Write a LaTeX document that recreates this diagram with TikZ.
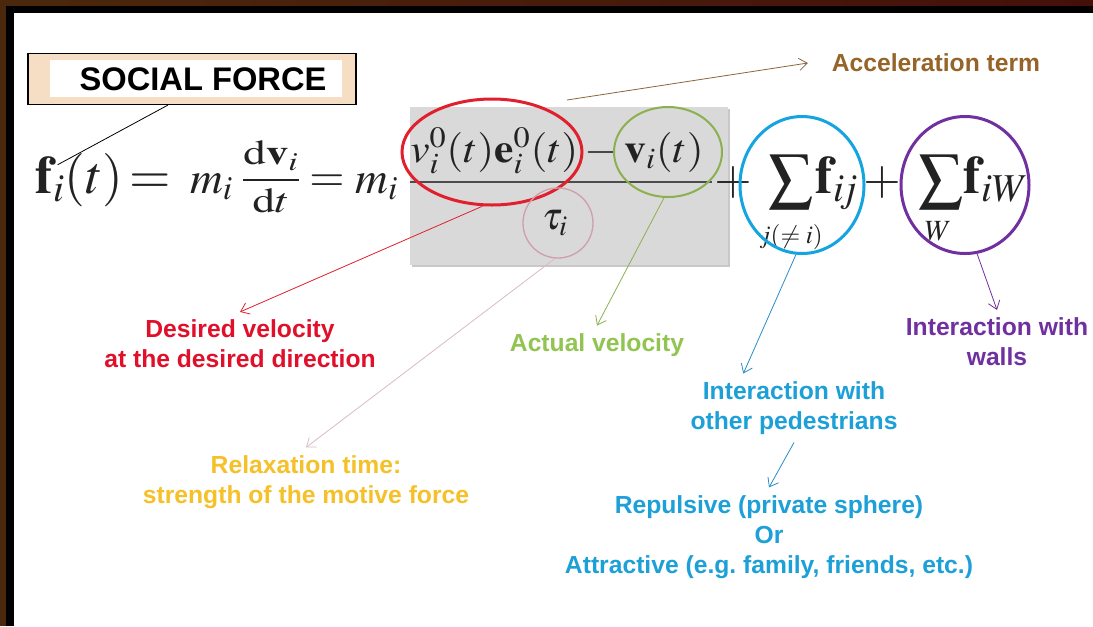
\documentclass[tikz,border=0pt]{standalone}
\usepackage{mathptmx}
\usepackage[no-math]{fontspec}
\usepackage{graphicx}
\newfontfamily\labfont{Liberation Sans}
\usetikzlibrary{shapes.geometric,arrows.meta}
\frenchspacing
\definecolor{framebrown}{HTML}{4B280C}
\definecolor{framemaroon}{HTML}{45100A}
\definecolor{titletan}{HTML}{F5DEC3}
\definecolor{boxgray}{HTML}{D9D9D9}
\definecolor{boxshadow}{HTML}{C8C8C8}
\definecolor{ellred}{HTML}{E0202E}
\definecolor{ellgreen}{HTML}{8CB050}
\definecolor{ellpink}{HTML}{CDA0AA}
\definecolor{ellblue}{HTML}{14A5E1}
\definecolor{ellpurple}{HTML}{7030A0}
\definecolor{labred}{HTML}{E0102A}
\definecolor{labgreen}{HTML}{92C452}
\definecolor{labgold}{HTML}{F5C028}
\definecolor{labcyan}{HTML}{1CA0D7}
\definecolor{labbrown}{HTML}{966428}
\definecolor{arrbrown}{HTML}{8C643C}
\definecolor{arrpink}{HTML}{D8BCC2}
\definecolor{arrblue}{HTML}{2A8CC8}
\definecolor{mathink}{HTML}{222222}
\tikzset{
  lab/.style={font=\labfont\bfseries\fontsize{18.5}{22.5}\selectfont, align=center, inner sep=0pt, outer sep=6pt},
  arr/.style={-{Straight Barb[length=6pt,width=9pt]}, line width=0.6pt},
  mathnode/.style={inner sep=0pt, text=mathink},
  ring/.style={ellipse, inner sep=0pt, fill=none}
}
\begin{document}
\begin{tikzpicture}[x=0.75pt,y=-0.75pt]
\useasboundingbox (0,0) rectangle (1093,626);
% frame
\fill[white] (0,0) rectangle (1093,626);
\shade[left color=framebrown, right color=framemaroon] (0,0) rectangle (1093,6);
\fill[framebrown] (0,0) rectangle (6,626);
\fill[black] (6,6) rectangle (1093,13);
\fill[black] (6,6) rectangle (14,626);
% title
\node[draw=black, line width=0.8pt, fill=titletan, minimum width=246pt, minimum height=38.25pt, inner sep=0pt] (titlebox) at (192,79) {};
\node[fill=white, minimum width=219pt, minimum height=27.75pt, inner sep=0pt] (titlewhite) at (196,78.5) {};
\node[font=\labfont\bfseries\fontsize{24.5}{28}\selectfont, inner sep=0pt] (titletext) at (203,79) {SOCIAL FORCE};
% gray box
\fill[boxshadow] (412,109) rectangle (730,267);
\fill[boxgray] (410,107) rectangle (728,265);
% equation
\node[mathnode, anchor=base west, font=\fontsize{40}{48}\selectfont] (fi) at (35,193) {$\mathbf{f}_i(t)\!=$};
\node[mathnode, anchor=base west, font=\fontsize{34}{40}\selectfont] (mA) at (190,193) {$m_i$};
\node[mathnode, font=\fontsize{25}{30}\selectfont] (dfrac) at (271,177) {\scalebox{1.35}[1.05]{$\displaystyle\frac{\mathrm{d}\mathbf{v}_i}{\mathrm{d}t}$}};
\node[mathnode, font=\fontsize{34}{40}\selectfont] (eqB) at (327,183) {$=$};
\node[mathnode, anchor=base west, font=\fontsize{34}{40}\selectfont] (mB) at (355,193) {$m_i$};
\node[mathnode, anchor=base west, font=\fontsize{30}{36}\selectfont] (numer) at (410,162) {\scalebox{1.09}[1]{$v_i^0(t)\mathbf{e}_i^0(t)-\mathbf{v}_i(t)$}};
\draw[line width=1.2pt, black!70] (410,182) -- (712,182);
\node[mathnode, font=\fontsize{29}{34}\selectfont] (tau) at (555,223) {$\tau_i$};
\node[mathnode, font=\fontsize{36}{40}\selectfont] (plusA) at (733,183) {$+$};
\node[mathnode, font=\fontsize{36}{40}\selectfont] (plusB) at (882,183) {$+$};
\node[mathnode, font=\fontsize{33}{40}\selectfont] (sigA) at (791,182) {$\displaystyle\sum$};
\node[mathnode, anchor=base west, font=\fontsize{40}{48}\selectfont] (fA) at (815,193) {$\mathbf{f}_{i\!j}$};
\node[mathnode, font=\fontsize{19}{22}\selectfont] (subA) at (791,237) {$j(\neq i)$};
\node[mathnode, font=\fontsize{33}{40}\selectfont] (sigB) at (941,182) {$\displaystyle\sum$};
\node[mathnode, anchor=base west, font=\fontsize{40}{48}\selectfont] (fB) at (963,193) {$\mathbf{f}_{iW}$};
\node[mathnode, font=\fontsize{22}{26}\selectfont] (subB) at (938,231) {$W$};
% rings
\node[ring, draw=ellred, line width=2.25pt, minimum width=135pt, minimum height=79.5pt] (redell) at (492,152) {};
\node[ring, draw=ellgreen, line width=1.5pt, minimum width=81pt, minimum height=67.5pt] (greenell) at (668,152) {};
\node[ring, draw=ellpink, line width=1pt, minimum width=52.5pt, minimum height=52.5pt] (pinkell) at (558,223) {};
\node[ring, draw=ellblue, line width=2.25pt, minimum width=93pt, minimum height=102.75pt] (blueell) at (802,185) {};
\node[ring, draw=ellpurple, line width=2.25pt, minimum width=96pt, minimum height=102.75pt] (purpleell) at (965,185) {};
% labels
\node[lab, text=labbrown] (accel) at (936,63) {Acceleration term};
\node[lab, text=labred] (desired) at (240,344) {Desired velocity\\at the desired direction};
\node[lab, text=labgreen] (actual) at (597,345) {Actual velocity};
\node[lab, text=labgold] (relax) at (306,482) {Relaxation time:\\strength of the motive force};
\node[lab, text=labcyan] (inter) at (794,408) {Interaction with\\other pedestrians};
\node[lab, text=labcyan] (rep) at (769,537) {Repulsive (private sphere)\\Or\\Attractive (e.g.\ family, friends, etc.)};
\node[lab, text=ellpurple] (walls) at (997,342) {Interaction with\\walls};
% connectors
\coordinate (accstart) at (567,100);
\draw[arr, arrbrown] (accstart) -- ([xshift=-12pt]accel.west);
\draw[line width=0.6pt, black] ([xshift=-18pt]titlebox.south) -- ([xshift=17pt,yshift=-9pt]fi.north west);
\draw[arr, ellred] (redell.-100) -- (desired.north);
\draw[arr, arrpink] (pinkell.-95) -- (relax.north);
\draw[arr, ellgreen] (greenell.-95) -- (actual.north);
\draw[arr, arrblue] (blueell.-95) -- ([xshift=-38pt]inter.north);
\draw[arr, arrblue] (inter.south) -- (rep.north);
\draw[arr, ellpurple] (purpleell.-80) -- (walls.north);
\end{tikzpicture}
\end{document}
